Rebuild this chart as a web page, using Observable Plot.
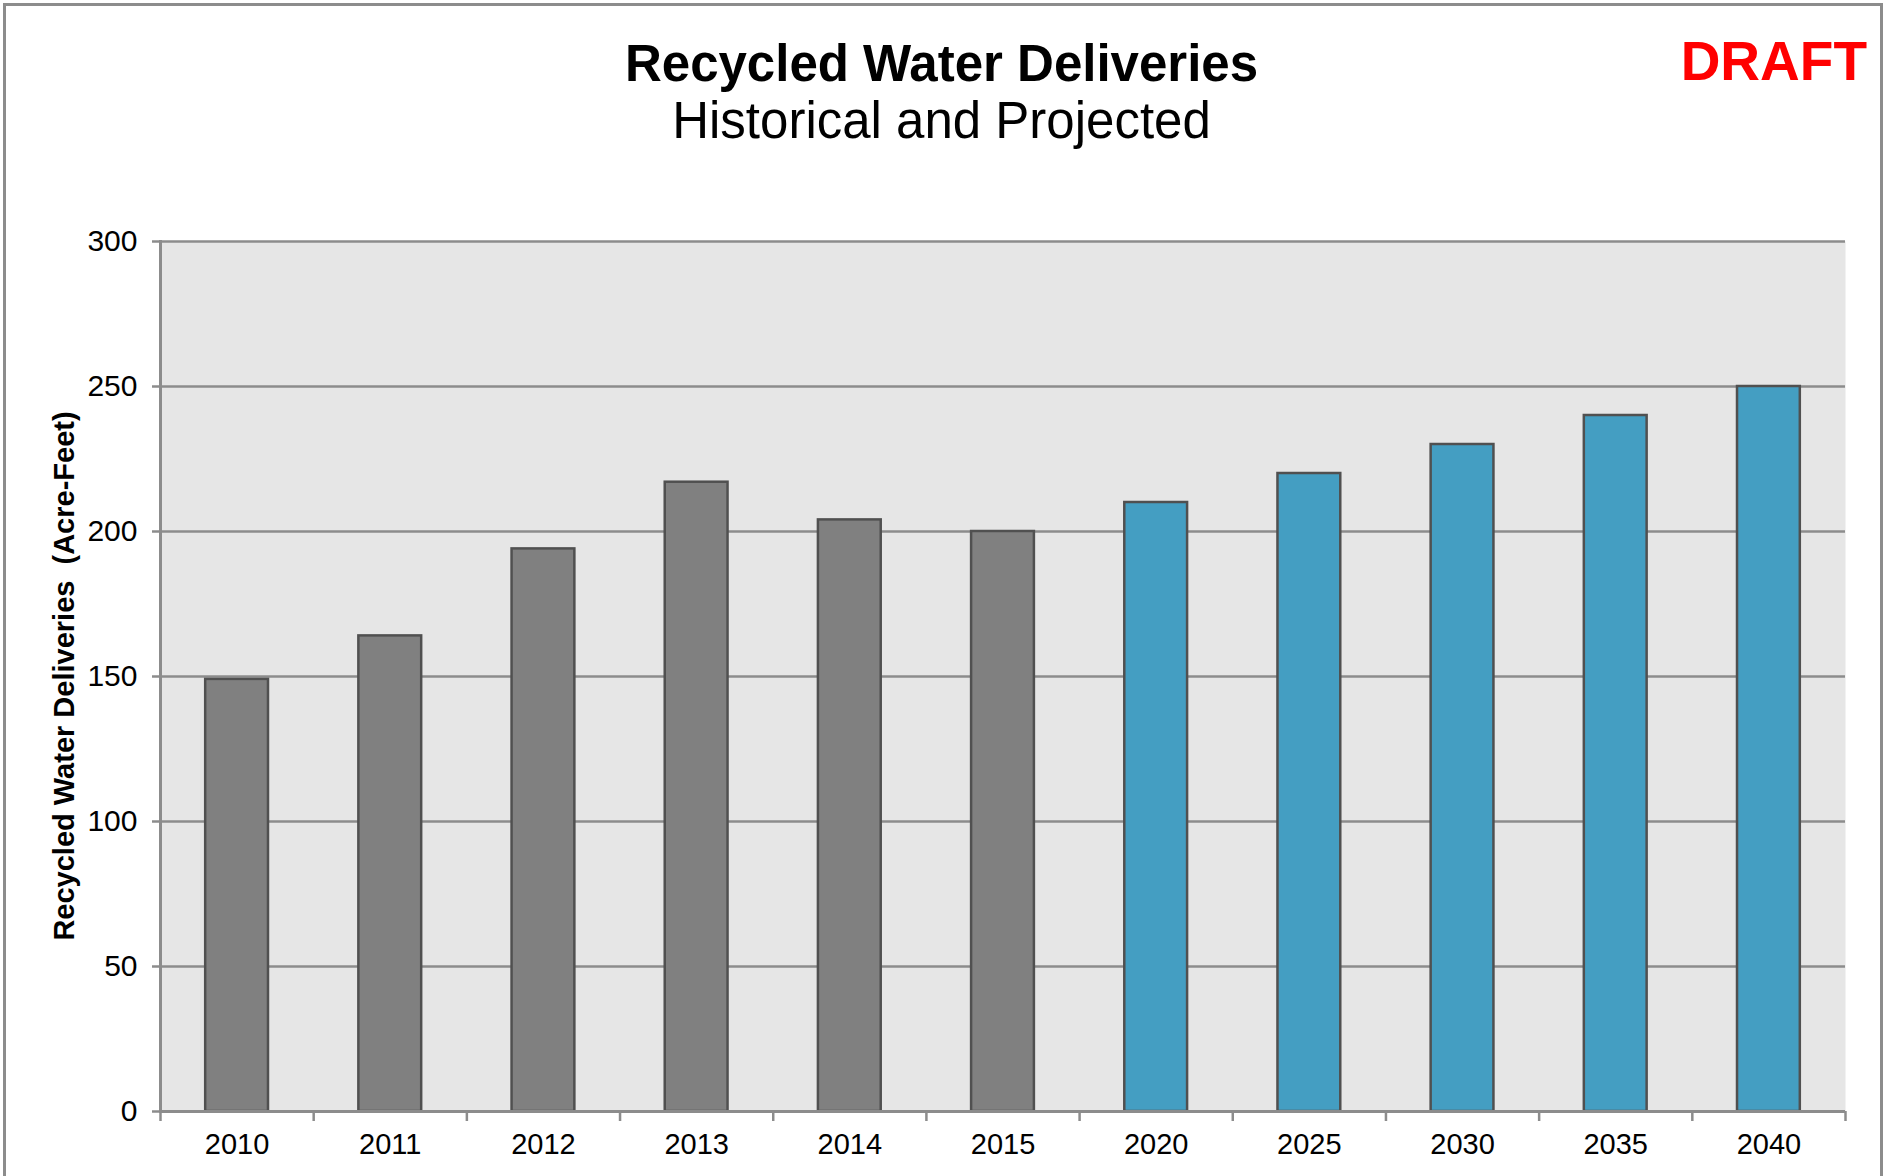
<!DOCTYPE html>
<html>
<head>
<meta charset="utf-8">
<script src="https://cdn.jsdelivr.net/npm/d3@7"></script>
<script src="https://cdn.jsdelivr.net/npm/@observablehq/plot@0.6"></script>
<style>
  html, body { margin: 0; padding: 0; background: #fff; }
  #wrap { position: relative; width: 1883px; height: 1176px; overflow: hidden; font-family: "Liberation Sans", Arial, sans-serif; }
  #border { position: absolute; left: 3px; top: 3px; width: 1874px; height: 1200px; border: 3px solid #8c8c8c; border-bottom: none; }
  .t { position: absolute; line-height: 1; white-space: pre; color: #000; }
  #title { left: 0; width: 1883px; text-align: center; top: 38px; font-size: 51px; font-weight: bold; }
  #subtitle { left: 0; width: 1883px; text-align: center; top: 95px; font-size: 51px; }
  #draft { right: 16px; top: 34px; font-size: 55px; font-weight: bold; color: #ff0000; }
  #ylabel { font-size: 29px; font-weight: bold; left: 64px; top: 676px; transform: translate(-50%, -50%) rotate(-90deg); transform-origin: center; }
  #chart { position: absolute; left: 0; top: 0; }
</style>
</head>
<body>
<div id="wrap">
  <div id="border"></div>
  <div id="chart"></div>
  <div class="t" id="title">Recycled Water Deliveries</div>
  <div class="t" id="subtitle">Historical and Projected</div>
  <div class="t" id="draft">DRAFT</div>
  <div class="t" id="ylabel">Recycled Water Deliveries  (Acre-Feet)</div>
</div>
<script>
// Data
const years = ["2010", "2011", "2012", "2013", "2014", "2015", "2020", "2025", "2030", "2035", "2040"];
const deliveries = [149, 164, 194, 217, 204, 200, 210, 220, 230, 240, 250];
const status = ["Historical", "Historical", "Historical", "Historical", "Historical", "Historical",
                "Projected", "Projected", "Projected", "Projected", "Projected"];
const yTicks = [0, 50, 100, 150, 200, 250, 300];
const gridTicks = [50, 100, 150, 200, 250, 300];

const data = years.map((y, i) => ({year: y, value: deliveries[i], status: status[i]}));

const W = 1883, H = 1176;
const mL = 160, mR = 38, mT = 241, mB = 65;
const step = (W - mL - mR) / years.length;
const grid = "#8c8c8c";

const chart = Plot.plot({
  width: W,
  height: H,
  marginLeft: mL,
  marginRight: mR,
  marginTop: mT,
  marginBottom: mB,
  style: {fontFamily: "'Liberation Sans', Arial, sans-serif", background: "transparent", overflow: "visible"},
  x: {domain: years, paddingInner: 0.59, paddingOuter: 0.295, round: false, axis: null, label: null},
  y: {domain: [0, 300], axis: null, label: null},
  color: {domain: ["Historical", "Projected"], range: ["#808080", "#449ec2"]},
  marks: [
    Plot.frame({fill: "#e6e6e6", stroke: null}),
    Plot.ruleY(gridTicks, {stroke: grid, strokeWidth: 2.5}),
    Plot.barY(data, {x: "year", y: "value", fill: "status", stroke: "#505050", strokeWidth: 2.5}),
    Plot.frame({anchor: "left", stroke: grid, strokeWidth: 3}),
    Plot.ruleY([0], {stroke: grid, strokeWidth: 3}),
    // y ticks and labels
    Plot.axisY(yTicks, {tickSize: 8, tickFormat: () => "", stroke: grid, strokeWidth: 2.5, label: null}),
    Plot.axisY(yTicks, {tickSize: 0, tickPadding: 23, fontSize: 30, fill: "#000", label: null}),
    // x ticks at category boundaries
    Plot.axisX(years, {tickSize: 10, tickFormat: () => "", stroke: grid, strokeWidth: 2.5, dx: -step / 2, label: null}),
    Plot.axisX([years[years.length - 1]], {tickSize: 10, tickFormat: () => "", stroke: grid, strokeWidth: 2.5, dx: step / 2, label: null}),
    // x labels
    Plot.axisX(years, {tickSize: 0, tickPadding: 22, fontSize: 29, fill: "#000", label: null})
  ]
});
document.getElementById("chart").appendChild(chart);
</script>
</body>
</html>
